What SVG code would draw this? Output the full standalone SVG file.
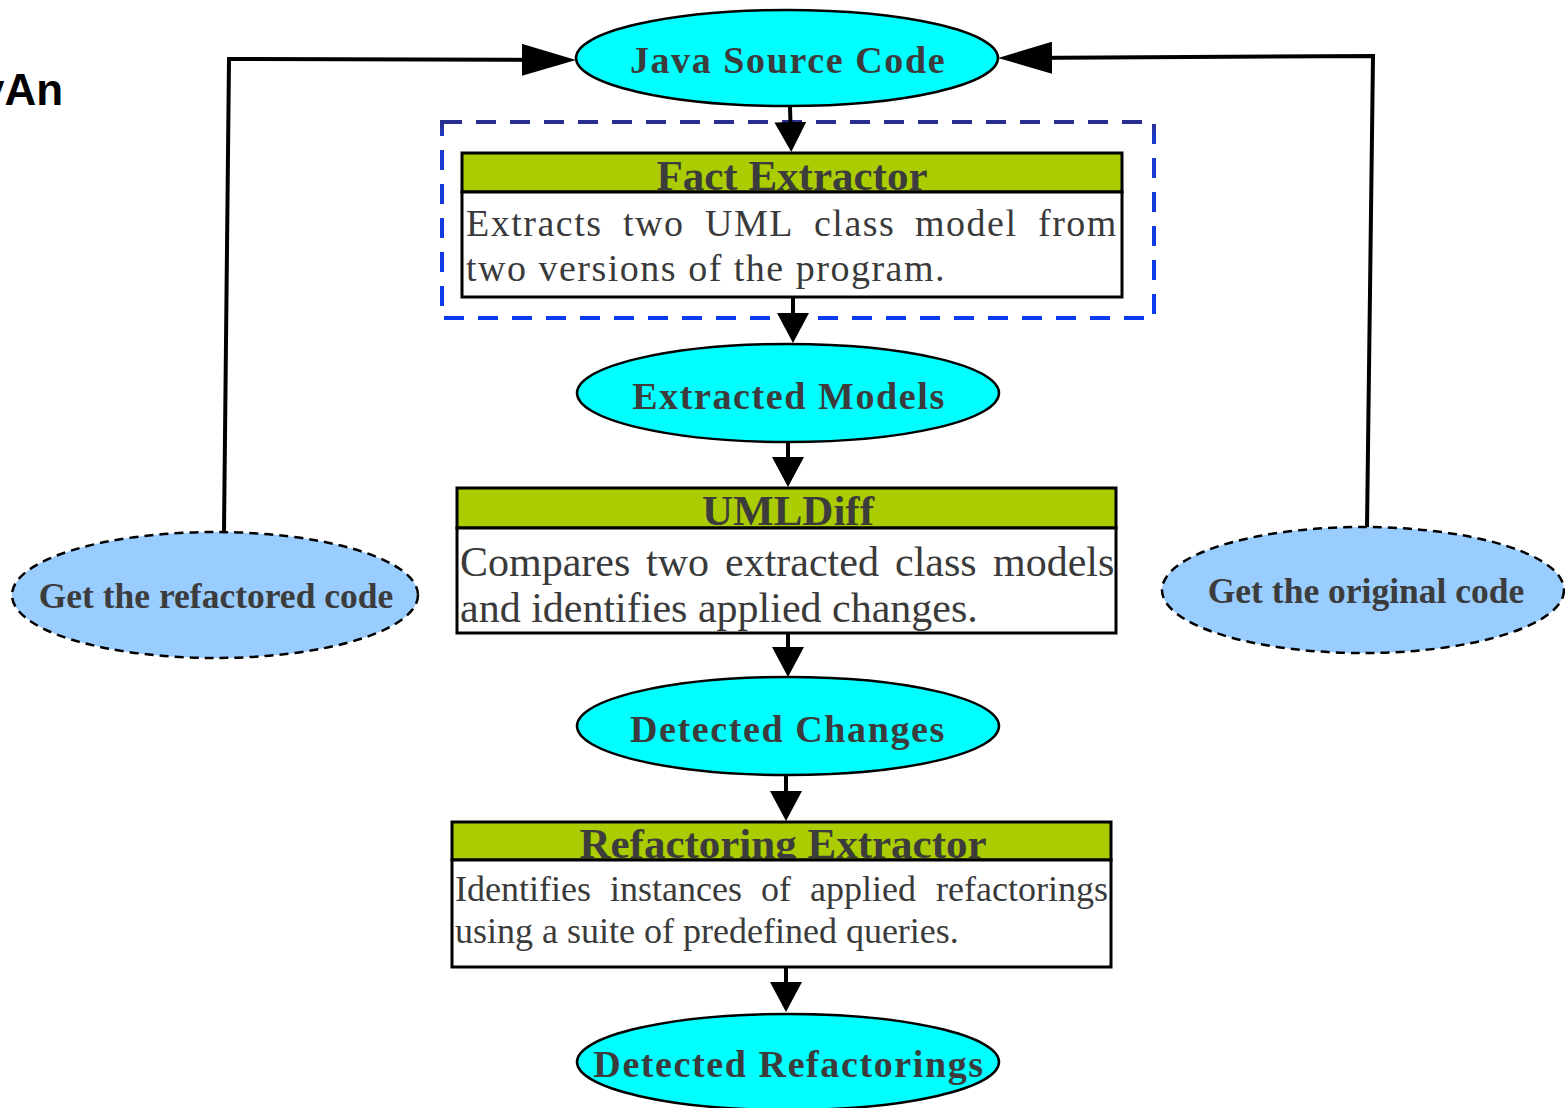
<svg xmlns="http://www.w3.org/2000/svg" width="1565" height="1108" viewBox="0 0 1565 1108">
<style>
.ell{fill:#00ffff;stroke:#000;stroke-width:2.5}
.ellt{font-family:"Liberation Serif",serif;font-weight:bold;font-size:38px;fill:#3c3c3c;letter-spacing:1.6px;text-anchor:middle}
.aux{fill:#99ccff;stroke:#000;stroke-width:2.5;stroke-dasharray:9 6}
.auxt{font-family:"Liberation Serif",serif;font-weight:bold;font-size:35.5px;fill:#3c3c3c;text-anchor:middle}
.hdr{fill:#aacc00;stroke:#000;stroke-width:3}
.body{fill:#fff;stroke:#000;stroke-width:3}
.ttl{font-family:"Liberation Serif",serif;font-weight:bold;font-size:43px;fill:#3c3c3c;text-anchor:middle}
.txt{font-family:"Liberation Serif",serif;fill:#3a3a3a}
.conn{fill:none;stroke:#000;stroke-width:4}
</style>
<defs>
<marker id="ah" markerUnits="userSpaceOnUse" viewBox="0 0 30 32" markerWidth="30" markerHeight="32" refX="20" refY="16" orient="auto"><path d="M0,0 L30,16 L0,32 z" fill="#000"/></marker>
<marker id="ahb" markerUnits="userSpaceOnUse" viewBox="0 0 54 32" markerWidth="54" markerHeight="32" refX="44" refY="16" orient="auto"><path d="M0,0 L54,16 L0,32 z" fill="#000"/></marker>
<linearGradient id="blu" x1="0" y1="0" x2="0" y2="1"><stop offset="0" stop-color="#2a2f8f"/><stop offset="0.08" stop-color="#1b3acb"/><stop offset="1" stop-color="#0a3bf0"/></linearGradient>
</defs>
<rect width="1565" height="1108" fill="#fff"/>
<text x="-20" y="105" font-family="Liberation Sans,Arial,sans-serif" font-weight="bold" font-size="44" fill="#000">yAn</text>

<g id="group-fact">
<rect x="442" y="122" width="712" height="196" fill="none" stroke="url(#blu)" stroke-width="4" stroke-dasharray="20 14"/>
</g>

<g id="java-source">
<ellipse class="ell" cx="787" cy="58" rx="211" ry="48"/>
<text class="ellt" x="788" y="73">Java Source Code</text>
</g>

<g id="fact-extractor">
<rect class="hdr" x="462" y="153" width="660" height="39"/>
<text class="ttl" x="792" y="190">Fact Extractor</text>
<rect class="body" x="462" y="192" width="660" height="105"/>
<text class="txt" font-size="38" letter-spacing="1.5" y="236"><tspan x="466">Extracts</tspan><tspan x="623">two</tspan><tspan x="705">UML</tspan><tspan x="814">class</tspan><tspan x="915">model</tspan><tspan x="1038">from</tspan></text>
<text class="txt" font-size="38" letter-spacing="1.5" x="466" y="281">two versions of the program.</text>
</g>

<g id="extracted-models">
<ellipse class="ell" cx="788" cy="393" rx="211" ry="49"/>
<text class="ellt" x="789" y="409">Extracted Models</text>
</g>

<g id="umldiff">
<rect class="hdr" x="457" y="488" width="659" height="40"/>
<text class="ttl" x="788" y="525">UMLDiff</text>
<rect class="body" x="457" y="528" width="659" height="105"/>
<text class="txt" font-size="42" y="576"><tspan x="460">Compares</tspan><tspan x="646">two</tspan><tspan x="725">extracted</tspan><tspan x="895">class</tspan><tspan x="993">models</tspan></text>
<text class="txt" font-size="42" x="460" y="622">and identifies applied changes.</text>
</g>

<g id="detected-changes">
<ellipse class="ell" cx="788" cy="726" rx="211" ry="49"/>
<text class="ellt" x="788" y="742">Detected Changes</text>
</g>

<g id="refactoring-extractor">
<rect class="hdr" x="452" y="822" width="659" height="38"/>
<text class="ttl" x="783" y="858">Refactoring Extractor</text>
<rect class="body" x="452" y="860" width="659" height="107"/>
<text class="txt" font-size="36" y="901"><tspan x="455">Identifies</tspan><tspan x="610">instances</tspan><tspan x="761">of</tspan><tspan x="810">applied</tspan><tspan x="936">refactorings</tspan></text>
<text class="txt" font-size="36" x="455" y="943">using a suite of predefined queries.</text>
</g>

<g id="detected-refactorings">
<ellipse class="ell" cx="788" cy="1062" rx="211" ry="48"/>
<text class="ellt" x="789" y="1077">Detected Refactorings</text>
</g>

<g id="get-refactored">
<ellipse class="aux" cx="215" cy="595" rx="203" ry="63"/>
<text class="auxt" x="216" y="608">Get the refactored code</text>
</g>

<g id="get-original">
<ellipse class="aux" cx="1363" cy="590" rx="201" ry="63"/>
<text class="auxt" x="1366" y="603">Get the original code</text>
</g>

<g id="connectors">
<path class="conn" d="M790,107 L791,142" marker-end="url(#ah)"/>
<path class="conn" d="M793,297 L793,333" marker-end="url(#ah)"/>
<path class="conn" d="M788,443 L788,477" marker-end="url(#ah)"/>
<path class="conn" d="M788,633 L788,667" marker-end="url(#ah)"/>
<path class="conn" d="M786,775 L786,811" marker-end="url(#ah)"/>
<path class="conn" d="M786,967 L786,1002" marker-end="url(#ah)"/>
<path class="conn" d="M224,531 L229,59 L566,60" marker-end="url(#ahb)"/>
<path class="conn" d="M1367,527 L1373,56 L1008,58" marker-end="url(#ahb)"/>
</g>
</svg>
